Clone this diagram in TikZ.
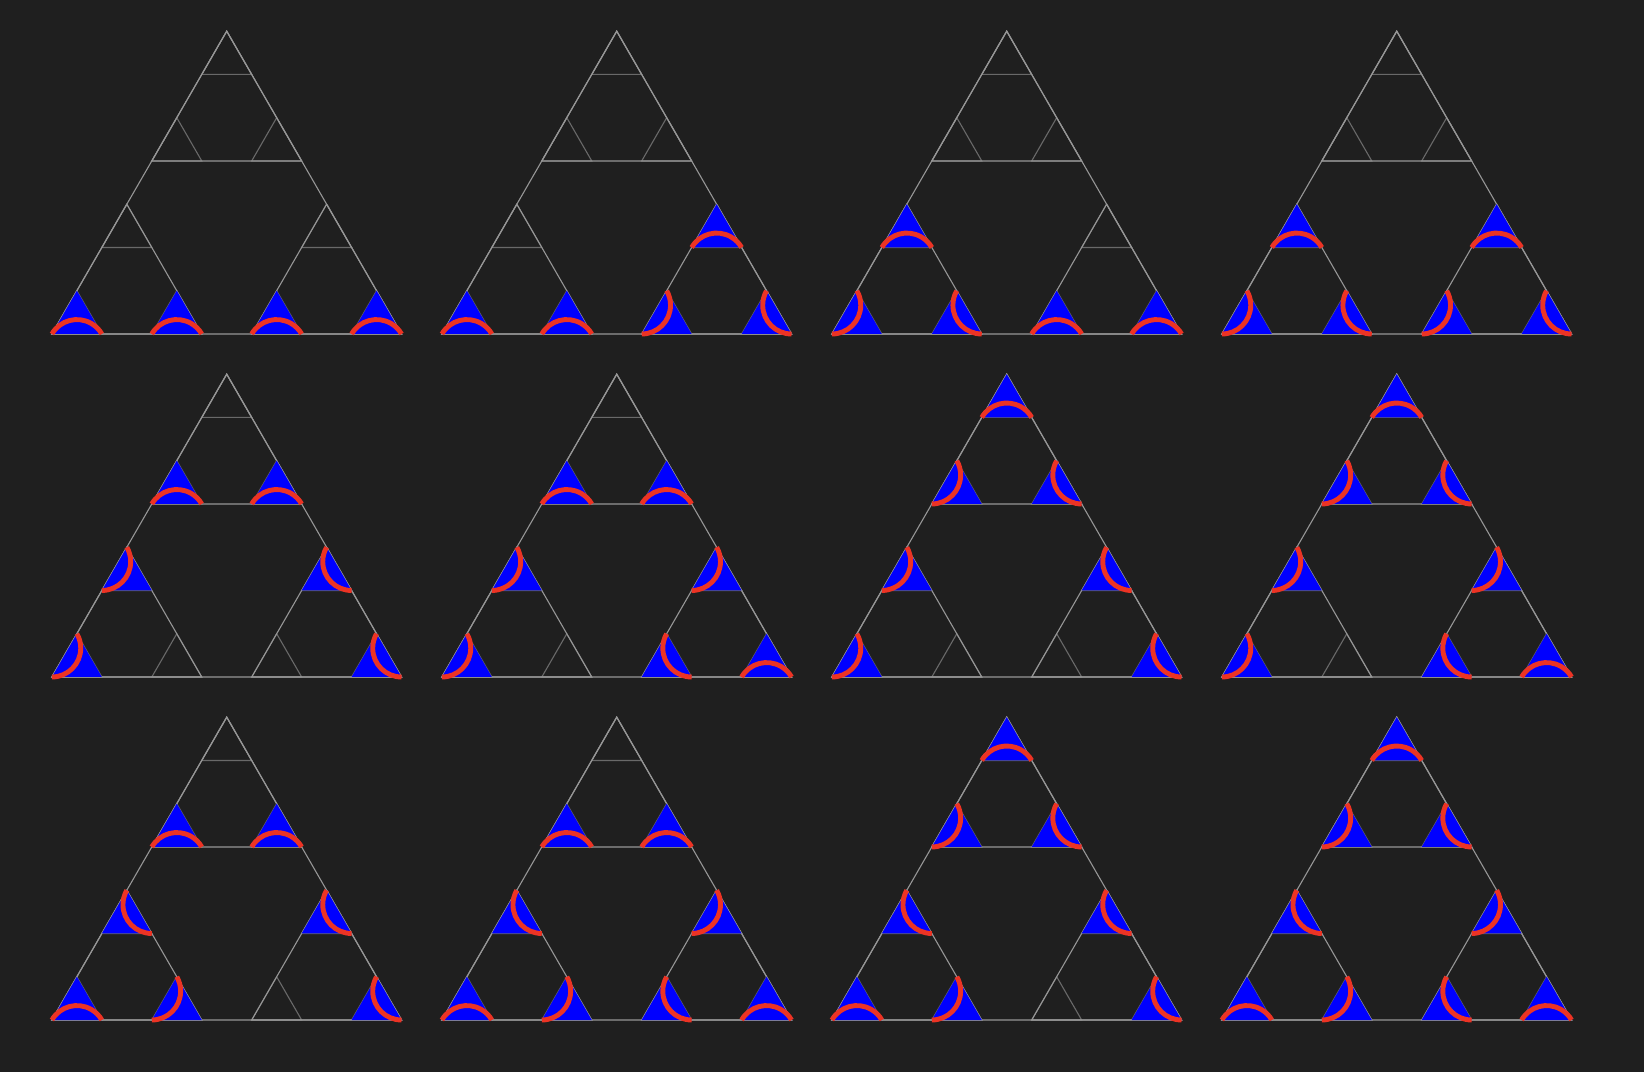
\documentclass[tikz,border=0pt]{standalone}
\definecolor{bgc}{RGB}{31,31,31}
\definecolor{tileblue}{RGB}{0,0,255}
\definecolor{arcred}{RGB}{236,51,36}
\definecolor{gridhi}{RGB}{150,150,150}
\definecolor{gridlo}{RGB}{105,105,105}
\def\tus{49.95}
\def\tuh{43.258}
\def\tur{28.838}
% upward unit tile with bottom-left lattice corner (#1,#2); red arc on base / left edge / right edge
\newcommand\tileB[2]{%
  \fill[tilefill] ({(#1+0.5*#2)*\tus},{#2*\tuh}) -- ++(\tus,0) -- ++({-0.5*\tus},\tuh) -- cycle;
  \draw[arcline] ({(#1+0.5*#2)*\tus},{#2*\tuh}) arc[start angle=150,end angle=30,radius=\tur];}
\newcommand\tileL[2]{%
  \fill[tilefill] ({(#1+0.5*#2)*\tus},{#2*\tuh}) -- ++(\tus,0) -- ++({-0.5*\tus},\tuh) -- cycle;
  \draw[arcline] ({(#1+0.5*#2)*\tus},{#2*\tuh}) arc[start angle=270,end angle=390,radius=\tur];}
\newcommand\tileR[2]{%
  \fill[tilefill] ({(#1+0.5*#2)*\tus},{#2*\tuh}) -- ++(\tus,0) -- ++({-0.5*\tus},\tuh) -- cycle;
  \draw[arcline] ({(#1+1+0.5*#2)*\tus},{#2*\tuh}) arc[start angle=270,end angle=150,radius=\tur];}
\newcommand\gridlines{%
  \foreach \pa/\pb in {0/6,0/4,2/4,0/2,4/2,0/0,2/0,4/0,6/0}{%
    \draw[innerline] ({(\pa+0.5*\pb)*\tus},{\pb*\tuh}) -- ++(\tus,0) -- ++({-0.5*\tus},\tuh) -- cycle;}%
  \draw[outerline] (0,0) -- ({7*\tus},0) -- ({3.5*\tus},{7*\tuh}) -- cycle;
  \draw[outerline] (0,0) -- ({3*\tus},0) -- ({1.5*\tus},{3*\tuh}) -- cycle;
  \draw[outerline] ({4*\tus},0) -- ({7*\tus},0) -- ({5.5*\tus},{3*\tuh}) -- cycle;
  \draw[outerline] ({2*\tus},{4*\tuh}) -- ({5*\tus},{4*\tuh}) -- ({3.5*\tus},{7*\tuh}) -- cycle;
}
\newcommand\panel[3]{\begin{scope}[shift={({51.9+390*#2},{738-343*#1})}]\gridlines #3\end{scope}}
\begin{document}
\begin{tikzpicture}[x=1pt,y=1pt,
  innerline/.style={draw=gridlo,line width=1.1pt},
  outerline/.style={draw=gridhi,line width=1.1pt},
  tilefill/.style={fill=tileblue},
  arcline/.style={draw=arcred,line width=4.9pt}]
\fill[bgc] (0,0) rectangle (1644,1072);
\useasboundingbox (0,0) rectangle (1644,1072);
\panel{0}{0}{\tileB{0}{0}\tileB{2}{0}\tileB{4}{0}\tileB{6}{0}}
\panel{0}{1}{\tileB{0}{0}\tileB{2}{0}\tileB{4}{2}\tileL{4}{0}\tileR{6}{0}}
\panel{0}{2}{\tileB{0}{2}\tileL{0}{0}\tileR{2}{0}\tileB{4}{0}\tileB{6}{0}}
\panel{0}{3}{\tileB{0}{2}\tileL{0}{0}\tileR{2}{0}\tileB{4}{2}\tileL{4}{0}\tileR{6}{0}}
\panel{1}{0}{\tileB{0}{4}\tileB{2}{4}\tileL{0}{2}\tileR{4}{2}\tileL{0}{0}\tileR{6}{0}}
\panel{1}{1}{\tileB{0}{4}\tileB{2}{4}\tileL{0}{2}\tileL{4}{2}\tileL{0}{0}\tileR{4}{0}\tileB{6}{0}}
\panel{1}{2}{\tileB{0}{6}\tileL{0}{4}\tileR{2}{4}\tileL{0}{2}\tileR{4}{2}\tileL{0}{0}\tileR{6}{0}}
\panel{1}{3}{\tileB{0}{6}\tileL{0}{4}\tileR{2}{4}\tileL{0}{2}\tileL{4}{2}\tileL{0}{0}\tileR{4}{0}\tileB{6}{0}}
\panel{2}{0}{\tileB{0}{4}\tileB{2}{4}\tileR{0}{2}\tileR{4}{2}\tileB{0}{0}\tileL{2}{0}\tileR{6}{0}}
\panel{2}{1}{\tileB{0}{4}\tileB{2}{4}\tileR{0}{2}\tileL{4}{2}\tileB{0}{0}\tileL{2}{0}\tileR{4}{0}\tileB{6}{0}}
\panel{2}{2}{\tileB{0}{6}\tileL{0}{4}\tileR{2}{4}\tileR{0}{2}\tileR{4}{2}\tileB{0}{0}\tileL{2}{0}\tileR{6}{0}}
\panel{2}{3}{\tileB{0}{6}\tileL{0}{4}\tileR{2}{4}\tileR{0}{2}\tileL{4}{2}\tileB{0}{0}\tileL{2}{0}\tileR{4}{0}\tileB{6}{0}}
\end{tikzpicture}
\end{document}
